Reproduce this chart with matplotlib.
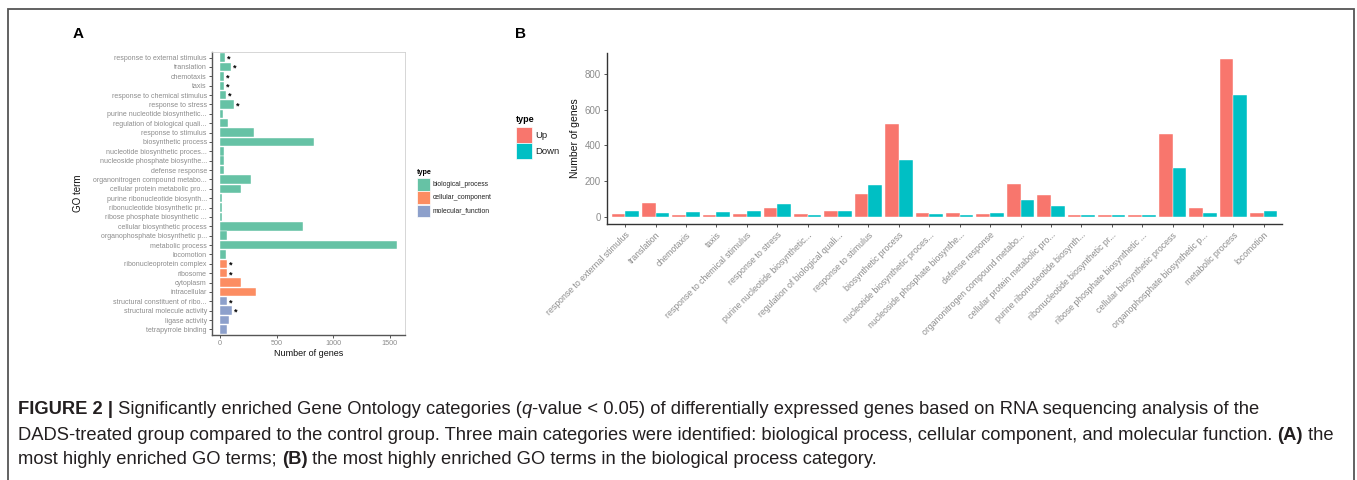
import matplotlib
matplotlib.use("Agg")
import matplotlib.pyplot as plt
from matplotlib.patches import Rectangle
import numpy as np

plt.rcParams['font.family'] = ['Liberation Sans', 'DejaVu Sans']

W, H = 1357, 480
DPI = 100

# ---------------- Data: panel A ----------------
a_terms = [
    "response to external stimulus", "translation", "chemotaxis", "taxis",
    "response to chemical stimulus", "response to stress",
    "purine nucleotide biosynthetic...", "regulation of biological quali...",
    "response to stimulus", "biosynthetic process",
    "nucleotide biosynthetic proces...", "nucleoside phosphate biosynthe...",
    "defense response", "organonitrogen compound metabo...",
    "cellular protein metabolic pro...", "purine ribonucleotide biosynth...",
    "ribonucleotide biosynthetic pr...", "ribose phosphate biosynthetic ...",
    "cellular biosynthetic process", "organophosphate biosynthetic p...",
    "metabolic process", "locomotion",
    "ribonucleoprotein complex", "ribosome", "cytoplasm", "intracellular",
    "structural constituent of ribo...", "structural molecule activity",
    "ligase activity", "tetrapyrrole binding",
]
a_values = [45, 99, 35, 35, 49, 121, 26, 67, 304, 830, 35, 33, 35, 274, 182,
            20, 20, 20, 736, 66, 1565, 53,
            63, 62, 185, 315,
            62, 103, 80, 60]
a_types = (["biological_process"] * 22 + ["cellular_component"] * 4
           + ["molecular_function"] * 4)
a_star = [1, 1, 1, 1, 1, 1, 0, 0, 0, 0, 0, 0, 0, 0, 0, 0, 0, 0, 0, 0, 0, 0,
          1, 1, 0, 0, 1, 1, 0, 0]
a_type_names = ["biological_process", "cellular_component", "molecular_function"]
a_colors = {"biological_process": "#66C2A5",
            "cellular_component": "#FC8D62",
            "molecular_function": "#8DA0CB"}
a_xticks = [0, 500, 1000, 1500]

# ---------------- Data: panel B ----------------
b_terms = [
    "response to external stimulus", "translation", "chemotaxis", "taxis",
    "response to chemical stimulus", "response to stress",
    "purine nucleotide biosynthetic...", "regulation of biological quali...",
    "response to stimulus", "biosynthetic process",
    "nucleotide biosynthetic proces...", "nucleoside phosphate biosynthe...",
    "defense response", "organonitrogen compound metabo...",
    "cellular protein metabolic pro...", "purine ribonucleotide biosynth...",
    "ribonucleotide biosynthetic pr...", "ribose phosphate biosynthetic ...",
    "cellular biosynthetic process", "organophosphate biosynthetic p...",
    "metabolic process", "locomotion",
]
b_up = [14, 78, 9, 9, 17, 50, 17, 35, 125, 518, 22, 22, 14, 181, 120, 12, 12,
        12, 465, 47, 884, 20]
b_down = [32, 21, 28, 28, 32, 71, 11, 32, 179, 316, 14, 12, 22, 93, 62, 10, 10,
          10, 271, 20, 684, 34]
b_series = ["Up", "Down"]
b_colors = {"Up": "#F8766D", "Down": "#00BFC4"}
b_yticks = [0, 200, 400, 600, 800]

TICK_GREY = "#8c8c8c"
AXIS_DARK = "#3a3a3a"

fig = plt.figure(figsize=(W / DPI, H / DPI), dpi=DPI)


def fx(px):
    return px / W


def fy(py):
    return 1 - py / H


# outer frame
fig.patches.append(Rectangle((fx(8), fy(520)), fx(1354) - fx(8), fy(9) - fy(520),
                             transform=fig.transFigure, fill=False,
                             edgecolor="#555555", linewidth=1.3, clip_on=False))

# ---------------- Panel A ----------------
axA = fig.add_axes([fx(212), fy(335), fx(405) - fx(212), fy(52) - fy(335)])
n = len(a_terms)
ypos = np.arange(n)
colsA = [a_colors[t] for t in a_types]
axA.barh(ypos, a_values, height=0.9, color=colsA, edgecolor="white",
         linewidth=0.3)
for i, (v, s) in enumerate(zip(a_values, a_star)):
    if s:
        axA.text(v + 18, i + 0.15, "*", ha="left", va="center", fontsize=6.5,
                 fontweight="bold", color="black")
axA.set_ylim(n - 1 + 0.6, -0.6)
axA.set_xlim(-71, 1637)
axA.set_yticks(ypos)
axA.set_yticklabels(a_terms, fontsize=5.0, color=TICK_GREY)
axA.set_xticks(a_xticks)
axA.set_xticklabels([str(t) for t in a_xticks], fontsize=5.2, color=TICK_GREY)
axA.tick_params(axis="both", length=2.2, width=0.6, color=AXIS_DARK, pad=1.5)
for side in ["left", "bottom"]:
    axA.spines[side].set_color("#555555")
    axA.spines[side].set_linewidth(1.0)
for side in ["top", "right"]:
    axA.spines[side].set_color("#d0d0d0")
    axA.spines[side].set_linewidth(0.6)
axA.set_xlabel("Number of genes", fontsize=6.5, labelpad=1, color="#111111")
fig.text(fx(78), fy(193), "GO term", rotation=90, ha="center", va="center",
         fontsize=7, color="#111111")

# legend A
fig.text(fx(417), fy(173), "type", fontsize=5.2, fontweight="bold",
         ha="left", va="center")
for k, t in enumerate(a_type_names):
    top = 178 + k * 13.3
    fig.patches.append(Rectangle((fx(417), fy(top + 12.5)), fx(12.5), 12.5 / H,
                                 transform=fig.transFigure,
                                 facecolor=a_colors[t], edgecolor="white",
                                 linewidth=0.5))
    fig.text(fx(433), fy(top + 6.5), t, fontsize=4.9, ha="left", va="center",
             color="#222222")

fig.text(fx(78), fy(34), "A", fontsize=11, fontweight="bold", ha="center",
         va="center")

# ---------------- Panel B ----------------
axB = fig.add_axes([fx(607), fy(224.3), fx(1282) - fx(607), fy(52.7) - fy(224.3)])
m = len(b_terms)
xpos = np.arange(m)
bw = 0.45
axB.bar(xpos - bw / 2, b_up, width=bw, color=b_colors["Up"], edgecolor="white",
        linewidth=0.3)
axB.bar(xpos + bw / 2, b_down, width=bw, color=b_colors["Down"],
        edgecolor="white", linewidth=0.3)
axB.set_xlim(-0.6, m - 1 + 0.6)
axB.set_ylim(-42, 919)
axB.set_yticks(b_yticks)
axB.set_yticklabels([str(t) for t in b_yticks], fontsize=7, color=TICK_GREY)
axB.set_xticks(xpos)
axB.set_xticklabels(b_terms, rotation=45, ha="right", rotation_mode="anchor",
                    fontsize=6.3, color=TICK_GREY)
axB.tick_params(axis="both", length=2.5, width=0.6, color=AXIS_DARK, pad=2)
for side in ["top", "right"]:
    axB.spines[side].set_visible(False)
for side in ["left", "bottom"]:
    axB.spines[side].set_color("#333333")
    axB.spines[side].set_linewidth(1.0)
axB.set_ylabel("Number of genes", fontsize=7.5, labelpad=3, color="#111111")

# legend B
fig.text(fx(516), fy(120), "type", fontsize=6.5, fontweight="bold",
         ha="left", va="center")
for k, s in enumerate(b_series):
    top = 126.5 + k * 16
    fig.patches.append(Rectangle((fx(516), fy(top + 16)), fx(16), 16 / H,
                                 transform=fig.transFigure,
                                 facecolor=b_colors[s], edgecolor="white",
                                 linewidth=0.5))
    fig.text(fx(535), fy(top + 8.5), s, fontsize=6.8, ha="left", va="center",
             color="#222222")

fig.text(fx(521), fy(34), "B", fontsize=11, fontweight="bold", ha="center",
         va="center")

# ---------------- Caption ----------------
CAP_FS = 13.2
CAP_COLOR = "#231f20"
caption_lines = [
    [("FIGURE 2 |", "bold", "normal"),
     (" Significantly enriched Gene Ontology categories (", "normal", "normal"),
     ("q", "normal", "italic"),
     ("-value < 0.05) of differentially expressed genes based on RNA sequencing analysis of the",
      "normal", "normal")],
    [("DADS-treated group compared to the control group. Three main categories were identified: biological process, cellular component, and molecular function. ",
      "normal", "normal"),
     ("(A)", "bold", "normal"), (" the", "normal", "normal")],
    [("most highly enriched GO terms; ", "normal", "normal"),
     ("(B)", "bold", "normal"),
     (" the most highly enriched GO terms in the biological process category.",
      "normal", "normal")],
]
caption_y = [410, 435, 460]

renderer = fig.canvas.get_renderer()
for segs, yy in zip(caption_lines, caption_y):
    x = 18.0
    for txt, wt, st in segs:
        t = fig.text(fx(x), fy(yy), txt, fontsize=CAP_FS, fontweight=wt,
                     fontstyle=st, ha="left", va="center", color=CAP_COLOR)
        bb = t.get_window_extent(renderer=renderer)
        x += bb.width

fig.savefig("out.png", dpi=DPI)
